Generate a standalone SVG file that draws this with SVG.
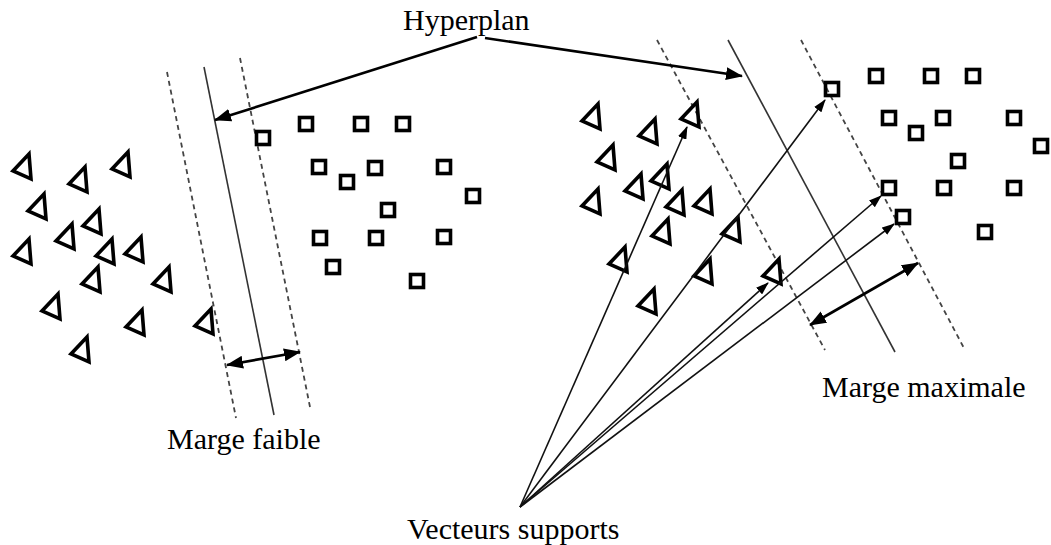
<svg xmlns="http://www.w3.org/2000/svg" xmlns:xlink="http://www.w3.org/1999/xlink" width="1051" height="545" viewBox="0 0 1051 545">
<style>
.lbl{font-family:"Liberation Serif","Times New Roman",serif;font-size:30px;fill:#000}
.pt{fill:none;stroke:#000;stroke-width:3.6;stroke-linejoin:miter}
.hyp{stroke:#333;stroke-width:1.6;fill:none}
.mar{stroke:#444;stroke-width:1.8;stroke-dasharray:5 4;fill:none}
.thick{stroke:#000;stroke-width:2.6;fill:none}
.thin{stroke:#111;stroke-width:1.6;fill:none}
</style>
<defs>
<path id="tri" d="M5,-13 L-11,4 L7,12 Z"/>
<rect id="sq" x="-6.5" y="-6.5" width="13" height="13"/>
<marker id="ah" markerUnits="userSpaceOnUse" markerWidth="17" markerHeight="13" refX="16" refY="6.5" orient="auto-start-reverse" viewBox="0 0 17 13"><path d="M0,0 L17,6.5 L0,13 Z" fill="#000"/></marker>
<marker id="ahs" markerUnits="userSpaceOnUse" markerWidth="13" markerHeight="9" refX="12" refY="4.5" orient="auto" viewBox="0 0 13 9"><path d="M0,0 L13,4.5 L0,9 Z" fill="#000"/></marker>
</defs>
<rect width="1051" height="545" fill="#fff"/>
<g id="planes">
<line class="mar" x1="167" y1="72" x2="236" y2="418"/>
<line class="hyp" x1="204" y1="67" x2="274" y2="415"/>
<line class="mar" x1="240" y1="58" x2="310" y2="407"/>
<line class="mar" x1="657" y1="40" x2="825" y2="350"/>
<line class="hyp" x1="728" y1="40" x2="895" y2="352"/>
<line class="mar" x1="801" y1="40" x2="965" y2="350"/>
</g>
<g id="left-class-triangles" class="pt">
<g id="lt1"><use xlink:href="#tri" x="24" y="167"/></g>
<g id="lt2"><use xlink:href="#tri" x="80" y="180"/></g>
<g id="lt3"><use xlink:href="#tri" x="123" y="165"/></g>
<g id="lt4"><use xlink:href="#tri" x="39" y="207"/></g>
<g id="lt5"><use xlink:href="#tri" x="94" y="222"/></g>
<g id="lt6"><use xlink:href="#tri" x="67" y="237"/></g>
<g id="lt7"><use xlink:href="#tri" x="24" y="252"/></g>
<g id="lt8"><use xlink:href="#tri" x="107" y="252"/></g>
<g id="lt9"><use xlink:href="#tri" x="136" y="250"/></g>
<g id="lt10"><use xlink:href="#tri" x="93" y="280"/></g>
<g id="lt11"><use xlink:href="#tri" x="164" y="280"/></g>
<g id="lt12"><use xlink:href="#tri" x="53" y="307"/></g>
<g id="lt13"><use xlink:href="#tri" x="137" y="323"/></g>
<g id="lt14"><use xlink:href="#tri" x="206" y="322"/></g>
<g id="lt15"><use xlink:href="#tri" x="82" y="350"/></g>
</g>
<g id="left-class-squares" class="pt">
<g id="ls1"><use xlink:href="#sq" x="263" y="138"/></g>
<g id="ls2"><use xlink:href="#sq" x="306" y="124"/></g>
<g id="ls3"><use xlink:href="#sq" x="361" y="124"/></g>
<g id="ls4"><use xlink:href="#sq" x="403" y="124"/></g>
<g id="ls5"><use xlink:href="#sq" x="319" y="167"/></g>
<g id="ls6"><use xlink:href="#sq" x="347" y="182"/></g>
<g id="ls7"><use xlink:href="#sq" x="375" y="168"/></g>
<g id="ls8"><use xlink:href="#sq" x="444" y="167"/></g>
<g id="ls9"><use xlink:href="#sq" x="473" y="196"/></g>
<g id="ls10"><use xlink:href="#sq" x="388" y="210"/></g>
<g id="ls11"><use xlink:href="#sq" x="320" y="238"/></g>
<g id="ls12"><use xlink:href="#sq" x="376" y="238"/></g>
<g id="ls13"><use xlink:href="#sq" x="444" y="237"/></g>
<g id="ls14"><use xlink:href="#sq" x="333" y="267"/></g>
<g id="ls15"><use xlink:href="#sq" x="417" y="281"/></g>
</g>
<g id="right-class-triangles" class="pt">
<g id="rt1"><use xlink:href="#tri" x="593" y="117"/></g>
<g id="rt2"><use xlink:href="#tri" x="650" y="132"/></g>
<g id="rt3"><use xlink:href="#tri" x="692" y="115"/></g>
<g id="rt4"><use xlink:href="#tri" x="608" y="158"/></g>
<g id="rt5"><use xlink:href="#tri" x="662" y="177"/></g>
<g id="rt6"><use xlink:href="#tri" x="636" y="187"/></g>
<g id="rt7"><use xlink:href="#tri" x="593" y="202"/></g>
<g id="rt8"><use xlink:href="#tri" x="677" y="203"/></g>
<g id="rt9"><use xlink:href="#tri" x="705" y="202"/></g>
<g id="rt10"><use xlink:href="#tri" x="663" y="232"/></g>
<g id="rt11"><use xlink:href="#tri" x="733" y="230"/></g>
<g id="rt12"><use xlink:href="#tri" x="620" y="260"/></g>
<g id="rt13"><use xlink:href="#tri" x="705" y="272"/></g>
<g id="rt14"><use xlink:href="#tri" x="774" y="272"/></g>
<g id="rt15"><use xlink:href="#tri" x="649" y="302"/></g>
</g>
<g id="right-class-squares" class="pt">
<g id="rs1"><use xlink:href="#sq" x="832" y="89"/></g>
<g id="rs2"><use xlink:href="#sq" x="876" y="76"/></g>
<g id="rs3"><use xlink:href="#sq" x="931" y="76"/></g>
<g id="rs4"><use xlink:href="#sq" x="973" y="76"/></g>
<g id="rs5"><use xlink:href="#sq" x="889" y="118"/></g>
<g id="rs6"><use xlink:href="#sq" x="916" y="133"/></g>
<g id="rs7"><use xlink:href="#sq" x="943" y="118"/></g>
<g id="rs8"><use xlink:href="#sq" x="1014" y="118"/></g>
<g id="rs9"><use xlink:href="#sq" x="1041" y="146"/></g>
<g id="rs10"><use xlink:href="#sq" x="958" y="161"/></g>
<g id="rs11"><use xlink:href="#sq" x="889" y="188"/></g>
<g id="rs12"><use xlink:href="#sq" x="944" y="188"/></g>
<g id="rs13"><use xlink:href="#sq" x="1014" y="188"/></g>
<g id="rs14"><use xlink:href="#sq" x="903" y="217"/></g>
<g id="rs15"><use xlink:href="#sq" x="985" y="232"/></g>
</g>
<g id="connectors">
<line class="thick" x1="477" y1="37" x2="215" y2="120" marker-end="url(#ah)"/>
<line class="thick" x1="485" y1="38" x2="742" y2="76" marker-end="url(#ah)"/>
<line class="thick" x1="227" y1="365" x2="300" y2="352" marker-start="url(#ah)" marker-end="url(#ah)"/>
<line class="thick" x1="810" y1="325" x2="918" y2="263" marker-start="url(#ah)" marker-end="url(#ah)"/>
<line class="thin" x1="520" y1="507" x2="687" y2="127" marker-end="url(#ahs)"/>
<line class="thin" x1="520" y1="507" x2="825" y2="100" marker-end="url(#ahs)"/>
<line class="thin" x1="520" y1="507" x2="768" y2="283" marker-end="url(#ahs)"/>
<line class="thin" x1="520" y1="507" x2="881" y2="196" marker-end="url(#ahs)"/>
<line class="thin" x1="520" y1="507" x2="894" y2="224" marker-end="url(#ahs)"/>
</g>
<g id="labels">
<text class="lbl" x="403" y="30">Hyperplan</text>
<text class="lbl" x="167" y="449">Marge faible</text>
<text class="lbl" x="822" y="397">Marge maximale</text>
<text class="lbl" x="407" y="539">Vecteurs supports</text>
</g>
</svg>
